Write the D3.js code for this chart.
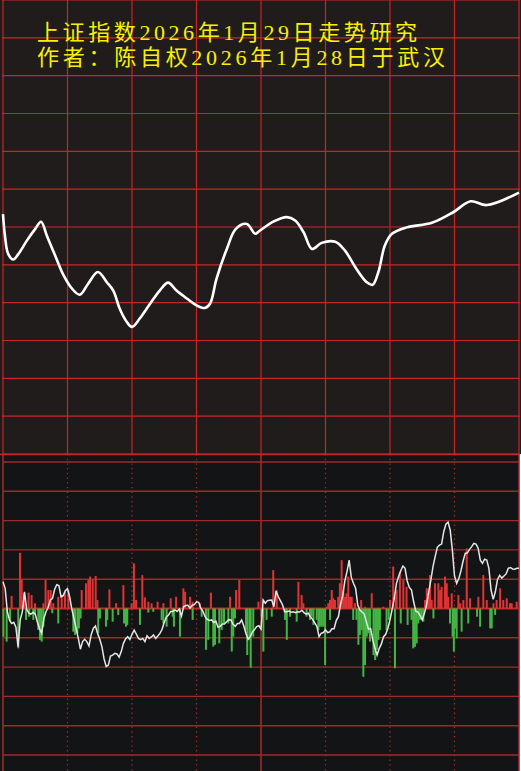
<!DOCTYPE html>
<html lang="zh">
<head>
<meta charset="UTF-8">
<script src="https://cdn.jsdelivr.net/npm/d3@7"></script>
<title>上证指数走势研究</title>
<style>
  body { margin: 0; background: #fff; }
</style>
</head>
<body>
<svg width="521" height="771"></svg>
<script>
// title lines
const titles = ["上证指数2026年1月29日走势研究", "作者：陈自权2026年1月28日于武汉"];

// top panel: smooth trend line (x in steps 0..80, value in grid units 0..120)
const topX = [0, 0.3, 0.8, 1.6, 2.4, 3.7, 5.0, 5.9, 6.8, 8.1, 9.4, 10.7, 11.9, 13.2, 14.7, 16.1, 17.1,
  18.1, 19.2, 20.0, 21.2, 22.8, 24.3, 25.6, 26.9, 28.5, 30.0, 31.3, 32.1, 33.1, 34.7, 36.1, 37.8,
  39.1, 39.8, 41.9, 44.0, 45.3, 46.6, 47.9, 49.4, 51.5, 53.0, 54.8, 56.4, 57.3, 58.2, 59.2, 60.3,
  62.6, 66.5, 69.8, 72.5, 75.0, 80];
const topV = [63.4, 57.7, 52.9, 51.4, 52.9, 56.4, 59.5, 61.4, 57.7, 52.4, 47.2, 43.7, 42.1, 45.0, 48.1, 45.4, 43.2,
  38.4, 34.9, 33.6, 35.8, 39.7, 43.2, 45.3, 43.2, 41.1, 39.3, 38.6, 39.7, 46.3, 54.2, 59.5, 60.8,
  58.2, 59.0, 61.4, 62.6, 61.7, 58.6, 54.2, 55.8, 56.1, 53.8, 48.9, 45.4, 44.7, 48.1, 55.1, 58.2,
  59.9, 61.1, 63.9, 66.8, 65.8, 69.1];

// bottom panel: white indicator line, one value per minute (0..240)
const lineVals = [
  9.1, 6.9, -1.0, -3.9, -5.1, -4.7, -6.4, -13.0, -3.9, -1.1,
  5.7, -0.3, -1.6, -1.9, -1.3, -1.9, -4.7, -6.9, -8.5, -3.4,
  -1.1, 0.4, 2.9, 3.4, 6.5, 8.1, 7.8, 4.0, 4.4, 6.1,
  6.8, 4.0, -0.2, -3.4, -6.8, -10.1, -13.9, -11.3, -10.5, -11.3,
  -12.8, -9.0, -6.8, -6.0, -8.5, -10.5, -13.0, -17.2, -19.8, -19.3,
  -16.2, -15.9, -15.3, -15.5, -16.6, -14.7, -11.9, -10.4, -9.6, -10.6,
  -8.8, -7.4, -8.7, -10.2, -10.6, -10.2, -11.3, -9.3, -10.2, -9.7,
  -9.0, -10.2, -9.4, -8.5, -7.1, -4.7, -2.9, -2.2, -1.0, -1.0,
  -0.5, -1.0, -0.2, -2.6, 0.6, 1.0, 1.1, 0.1, 1.1, 1.3,
  2.3, 2.1, 0.1, -1.0, -2.8, -3.7, -4.1, -3.9, -4.8, -4.3,
  -6.4, -6.1, -5.3, -5.3, -4.5, -3.8, -3.9, -5.4, -6.1, -5.1,
  -5.1, -3.9, -6.0, -8.5, -10.5, -9.6, -8.0, -7.2, -6.2, -5.9,
  -7.0, 2.9, 1.8, 2.7, 2.8, 2.9, 0.6, 6.0, 4.1, 2.7,
  1.3, -1.1, -1.1, -0.9, -1.3, -1.1, -1.4, -1.1, -1.2, -0.6,
  -1.4, -1.9, -1.6, -2.9, -3.7, -4.9, -6.1, -9.6, -8.5, -8.2,
  -7.3, -8.2, -8.0, -6.9, -6.9, -4.1, -2.8, 1.4, 4.3, 9.4,
  12.6, 16.5, 10.6, 8.6, 6.9, 1.2, -0.5, -1.2, -1.9, -4.5,
  -7.1, -6.8, -10.7, -13.6, -15.9, -13.6, -12.1, -9.6, -8.8, -6.8,
  -3.9, -0.2, 3.5, 8.6, 10.9, 12.9, 14.5, 13.7, 9.4, 7.2,
  6.3, 2.3, -0.9, -1.2, -2.4, -3.9, -1.6, 1.2, 5.7, 9.7,
  14.3, 17.7, 20.9, 21.6, 22.0, 26.2, 28.8, 29.5, 26.8, 19.9,
  11.1, 8.6, 10.2, 12.9, 16.2, 18.8, 19.0, 20.2, 21.1, 22.2,
  22.0, 20.6, 16.5, 15.4, 16.8, 16.5, 13.7, 6.3, 3.1, 5.7,
  9.9, 11.3, 10.4, 11.1, 11.8, 13.7, 14.0, 13.5, 13.4, 13.7, 13.7];

// bottom panel: red / green bars (minute, value)
const barT = [0.2, 1.7, 3.3, 4.0, 7.1, 7.9, 8.7, 9.8, 10.7, 11.9, 12.2, 13.3, 14.1, 14.9, 14.9, 16.4, 17.2, 18.0,
  18.8, 18.8, 19.8, 21.1, 22.2, 22.9, 23.4, 25.7, 25.7, 27.3, 28.8, 30.4, 32.7, 33.5, 34.6, 35.3, 36.1,
  36.6, 38.6, 39.7, 40.5, 41.7, 43.1, 43.9, 44.3, 45.1, 47.9, 48.5, 49.5, 51.0, 52.6, 53.6, 56.0, 56.3,
  57.2, 57.8, 59.8, 60.9, 61.9, 63.7, 64.8, 66.0, 67.6, 67.6, 69.1, 69.9, 71.9, 73.8, 74.6, 74.6, 76.1,
  78.0, 78.9, 79.5, 80.5, 82.3, 83.9, 84.7, 87.0, 88.2, 88.2, 91.6, 92.4, 94.4, 95.5, 96.7, 97.8, 98.6,
  100.6, 101.7, 102.8, 104.8, 105.6, 106.4, 107.1, 107.9, 108.4, 109.9, 113.0, 113.6, 114.6, 115.2,
  116.4, 118.8,
  120.3, 121.1, 122.6, 125.0, 125.7, 127.3, 131.2, 132.0, 133.5, 136.6, 137.4, 138.9, 139.7, 141.2,
  142.8, 143.6, 144.4, 145.9, 146.7, 147.4, 148.2, 149.0, 149.8, 150.5, 151.3, 152.1, 152.1, 152.9,
  153.6, 154.4, 155.9, 156.7, 157.5, 158.3, 159.1, 159.8, 160.6, 161.4, 162.2, 162.9, 163.7, 164.4,
  165.3, 166.0, 166.6, 166.8, 167.6, 168.4, 168.4, 169.2, 169.9, 170.7, 171.5, 172.3, 173.1, 173.9,
  174.6, 175.3, 176.9, 178.4, 179.4, 180.0, 181.5, 182.3, 182.7, 183.1, 184.6, 185.0, 186.2, 187.7,
  188.2, 190.0, 190.8, 191.6, 192.4, 193.2, 193.9, 194.7, 195.5, 196.3, 197.1, 197.8, 198.6, 199.4,
  200.2, 200.9, 202.5, 203.3, 204.0, 205.6, 206.4, 207.1, 207.9, 208.7, 209.1, 209.7, 210.3, 211.0,
  211.8, 212.6, 213.3, 214.1, 215.7, 216.4, 217.2, 220.5, 221.1, 221.9, 223.4, 225.0, 226.6, 227.3,
  228.1, 228.9, 229.6, 231.2, 232.7, 234.3, 235.8, 236.6, 238.9];
const barV = [-9.6, -11.3, -4.5, 4.3, -13.6, 19.0, 9.9, 5.2, -3.9, 5.4, -2.8, 4.6, -3.9, 1.8, -2.2, -7.3, -10.7, -11.3,
  1.8, -6.2, 9.7, 6.3, 6.3, -1.6, 1.8, 4.0, -5.1, 4.6, 5.7, 6.3, -7.9, -9.0, -8.5, -6.8, -3.4,
  6.3, 8.6, 9.7, 10.9, 9.9, 11.1, 2.9, -8.5, -3.4, -6.2, -3.9, 6.5, -4.5, 1.8, -2.2, 8.0, -5.1,
  -6.2, -5.6, 1.8, 15.4, 2.9, -5.6, 11.4, 3.8, 2.3, -1.4, 1.8, -1.1, 2.3, -3.9, 1.8, -5.1, -6.2,
  3.5, -2.8, -6.2, 4.0, -9.6, 6.9, 5.7, 4.0, 2.3, -3.9, 1.8, -2.8, -14.1, -10.7, 5.4, -13.0, -12.4,
  -11.9, -7.3, -5.1, -5.1, 4.0, -14.7, -9.6, -3.4, 6.3, 9.7, -7.3, -15.9, -10.7, -20.2,
  -9.6, 2.3,
  -2.8, -14.7, -3.9, -2.8, 13.1, 6.3, -3.9, -10.7, -2.8, -4.5, 9.1, 4.6, 1.8, -2.8,
  -3.9, -2.8, -5.6, -3.9, -7.4, -6.2, -6.2, -6.2, -19.3, 0.6, 1.8, 2.9, -3.9, 6.3,
  3.5, 2.9, 4.0, 8.6, 16.5, 6.3, 4.0, 5.2, 10.9, 4.0, 4.0, -3.9, 1.8, -3.9,
  -12.4, -9.0, 2.9, -7.4, -23.3, 0.6, -19.3, -9.6, -8.5, -11.3, 5.2, -15.9, -17.6, -14.1,
  -10.7, -7.4, 0.6, -7.4, -3.9, 2.9, 14.3, -20.4, 4.0, 6.3, 12.6, -5.1, 9.7, 7.4,
  -5.6, -3.9, -13.6, -13.1, -11.9, -5.1, -3.9, -3.4, -4.5, 2.9, 6.9, 4.0, 11.4, 2.9,
  -3.4, 8.6, 8.6, 6.3, 7.4, 10.9, 8.6, 4.0, -5.1, 5.2, -9.6, -14.7, -6.8, -10.2,
  4.6, 1.8, -7.9, 2.9, 20.5, -5.1, 3.5, -2.8, 4.0, -6.2, 11.4, 2.9, -6.8, -6.8,
  1.8, -2.2, 2.9, 6.9, 2.9, 3.5, 1.8, 1.8, 2.3];

const width = 521;
const height = 771;
const topH = 454;       // top panel bottom edge
const botTop = 454;     // bottom panel top edge
const right = 519;

const gridRed = "#c82626";
const darkRed = "#9e2a2a";

const svg = d3.select("svg");

// backgrounds
svg.append("rect").attr("x", 0).attr("y", 0).attr("width", width).attr("height", height).attr("fill", "#fff");
svg.append("rect").attr("x", 0).attr("y", 0).attr("width", width).attr("height", topH).attr("fill", "#201c1b");
svg.append("rect").attr("x", 0).attr("y", botTop).attr("width", right).attr("height", height - botTop).attr("fill", "#131416");

// ---- top panel
const x = d3.scaleLinear().domain([0, 80]).range([3, right]);
const y = d3.scaleLinear().domain([0, 120]).range([topH, 0]);

const gTop = svg.append("g");
gTop.selectAll("line.v")
    .data(d3.range(0, 81, 10))
    .join("line")
    .attr("x1", d => x(d)).attr("x2", d => x(d))
    .attr("y1", 0).attr("y2", topH)
    .attr("stroke", gridRed).attr("stroke-width", 1.2);
gTop.selectAll("line.h")
    .data(d3.range(0, 121, 10))
    .join("line")
    .attr("x1", 2).attr("x2", right + 1)
    .attr("y1", d => y(d)).attr("y2", d => y(d))
    .attr("stroke", gridRed).attr("stroke-width", 1.2);

const topLine = d3.line()
    .curve(d3.curveCatmullRom.alpha(0.5))
    .x((d, i) => x(topX[i]))
    .y(d => y(d));

gTop.append("path")
    .datum(topV)
    .attr("fill", "none")
    .attr("stroke", "#fff")
    .attr("stroke-width", 2.6)
    .attr("stroke-linejoin", "round")
    .attr("d", topLine);

// title
svg.selectAll("text.title")
    .data(titles)
    .join("text")
    .attr("x", 37)
    .attr("y", (d, i) => 40 + i * 25)
    .attr("textLength", (d, i) => i ? 408 : 380)
    .attr("lengthAdjust", "spacing")
    .attr("fill", "#f8f000")
    .style("font", "22px 'Liberation Serif', 'Noto Sans CJK SC', serif")
    .text(d => d);

// ---- bottom panel
const xb = d3.scaleLinear().domain([0, 240]).range([3, right]);
const yb = d3.scaleLinear().domain([-50, 50]).range([755, 462]);

const gBot = svg.append("g");

gBot.selectAll("line.h")
    .data(d3.range(-50, 51, 10))
    .join("line")
    .attr("x1", 3).attr("x2", right)
    .attr("y1", d => yb(d)).attr("y2", d => yb(d))
    .attr("stroke", d => d === 0 ? "#c42828" : darkRed)
    .attr("stroke-width", d => d === 0 ? 2 : 1.4);

// dotted half-hour lines, solid at open / noon / close
gBot.selectAll("line.v")
    .data(d3.range(0, 241, 30))
    .join("line")
    .attr("x1", d => xb(d)).attr("x2", d => xb(d))
    .attr("y1", botTop).attr("y2", height)
    .attr("stroke", darkRed)
    .attr("stroke-width", d => d % 120 === 0 ? 1.6 : 1.3)
    .attr("stroke-dasharray", d => d % 120 === 0 ? null : "1.4,3.3");

gBot.append("line")
    .attr("x1", 0).attr("x2", right).attr("y1", botTop + 0.5).attr("y2", botTop + 0.5)
    .attr("stroke", gridRed).attr("stroke-width", 1.5);

// bars
gBot.selectAll("rect.bar")
    .data(barT.map((t, i) => ({t, v: barV[i]})))
    .join("rect")
    .attr("x", d => xb(d.t) - 1)
    .attr("width", 2)
    .attr("y", d => d.v > 0 ? yb(d.v) : yb(0))
    .attr("height", d => Math.abs(yb(d.v) - yb(0)))
    .attr("fill", d => d.v > 0 ? "#e03434" : "#44b444");

const botLine = d3.line()
    .x((d, i) => xb(i))
    .y(d => yb(d));

gBot.append("path")
    .datum(lineVals)
    .attr("fill", "none")
    .attr("stroke", "#e6e6e6")
    .attr("stroke-width", 1.5)
    .attr("d", botLine);
</script>
</body>
</html>
